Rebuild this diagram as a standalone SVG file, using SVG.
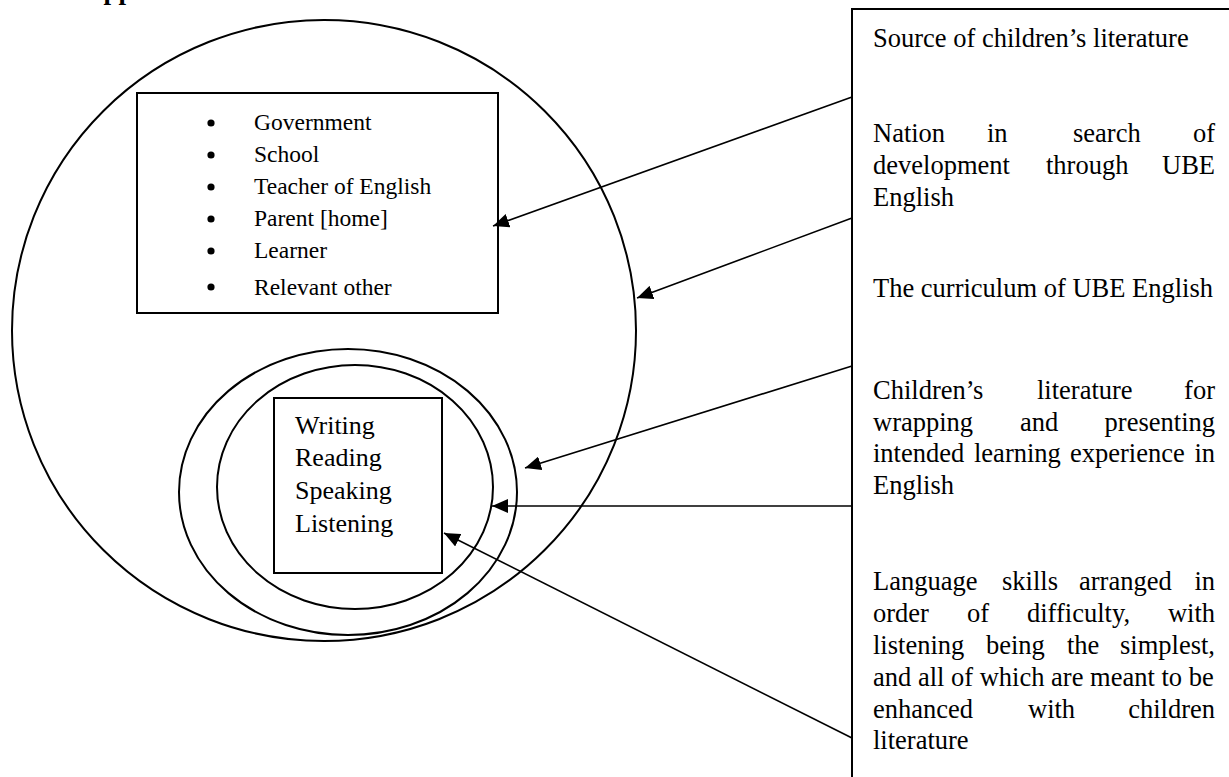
<svg xmlns="http://www.w3.org/2000/svg" width="1229" height="777" viewBox="0 0 1229 777">
<style>
.bg{fill:#fff}
.shape{fill:none;stroke:#000;stroke-width:2}
.conn{fill:none;stroke:#000;stroke-width:1.6}
.t{font-family:"Liberation Serif","Times New Roman",serif;fill:#000}
.list{font-size:23.5px}
.skill{font-size:26px}
.panel{font-size:26.5px}
.end{text-anchor:end}
.title{font-family:"Liberation Serif","Times New Roman",serif;font-weight:bold;font-size:27px;fill:#000}
</style>
<defs>
<marker id="arrow" markerUnits="userSpaceOnUse" markerWidth="16" markerHeight="14" refX="16" refY="7" orient="auto">
<path d="M0,0 L16,7 L0,14 z" fill="#000"/>
</marker>
</defs>
<rect class="bg" x="0" y="0" width="1229" height="777"/>
<text class="title" x="84" y="-1">Approach</text>

<g id="outer-circle">
<ellipse class="shape" cx="324" cy="330.5" rx="312" ry="310.5"/>
</g>

<g id="stakeholders">
<rect class="shape" x="137" y="93" width="361" height="220"/>
<g fill="#000">
<circle cx="211" cy="123" r="3.6"/>
<circle cx="211" cy="155" r="3.6"/>
<circle cx="211" cy="187" r="3.6"/>
<circle cx="211" cy="219" r="3.6"/>
<circle cx="211" cy="251" r="3.6"/>
<circle cx="211" cy="287" r="3.6"/>
</g>
<text class="t list" x="254" y="130">Government</text>
<text class="t list" x="254" y="162">School</text>
<text class="t list" x="254" y="194">Teacher of English</text>
<text class="t list" x="254" y="226">Parent [home]</text>
<text class="t list" x="254" y="258">Learner</text>
<text class="t list" x="254" y="295">Relevant other</text>
</g>

<g id="literature-ellipse">
<ellipse class="shape" cx="348" cy="492" rx="169" ry="143"/>
</g>

<g id="curriculum-ellipse">
<ellipse class="shape" cx="355" cy="487" rx="138" ry="122"/>
</g>

<g id="skills">
<rect class="shape" x="274" y="398" width="168" height="175"/>
<text class="t skill" x="295" y="434">Writing</text>
<text class="t skill" x="295" y="466">Reading</text>
<text class="t skill" x="295" y="499">Speaking</text>
<text class="t skill" x="295" y="532">Listening</text>
</g>

<g id="legend-panel">
<rect class="shape" x="852" y="9" width="420" height="800"/>
<text class="t panel" x="873" y="47">Source of children’s literature</text>

<text class="t panel" x="873" y="142">Nation</text>
<text class="t panel" x="987" y="142">in</text>
<text class="t panel" x="1073" y="142">search</text>
<text class="t panel end" x="1215" y="142">of</text>
<text class="t panel" x="873" y="174">development</text>
<text class="t panel" x="1046" y="174">through</text>
<text class="t panel end" x="1215" y="174">UBE</text>
<text class="t panel" x="873" y="206">English</text>

<text class="t panel" x="873" y="297">The curriculum of UBE English</text>

<text class="t panel" x="873" y="399">Children’s</text>
<text class="t panel" x="1037" y="399">literature</text>
<text class="t panel end" x="1215" y="399">for</text>
<text class="t panel" x="873" y="431">wrapping</text>
<text class="t panel" x="1020" y="431">and</text>
<text class="t panel end" x="1215" y="431">presenting</text>
<text class="t panel" x="873" y="462">intended</text>
<text class="t panel" x="974" y="462">learning</text>
<text class="t panel" x="1070" y="462">experience</text>
<text class="t panel end" x="1215" y="462">in</text>
<text class="t panel" x="873" y="494">English</text>

<text class="t panel" x="873" y="590">Language</text>
<text class="t panel" x="1002" y="590">skills</text>
<text class="t panel" x="1079" y="590">arranged</text>
<text class="t panel end" x="1215" y="590">in</text>
<text class="t panel" x="873" y="622">order</text>
<text class="t panel" x="967" y="622">of</text>
<text class="t panel" x="1027" y="622">difficulty,</text>
<text class="t panel end" x="1215" y="622">with</text>
<text class="t panel" x="873" y="654">listening</text>
<text class="t panel" x="986" y="654">being</text>
<text class="t panel" x="1067" y="654">the</text>
<text class="t panel end" x="1215" y="654">simplest,</text>
<text class="t panel" x="873" y="686">and all of which are meant to be</text>
<text class="t panel" x="873" y="718">enhanced</text>
<text class="t panel" x="1028" y="718">with</text>
<text class="t panel end" x="1215" y="718">children</text>
<text class="t panel" x="873" y="749">literature</text>
</g>

<g id="connectors">
<line class="conn" x1="852" y1="97" x2="493" y2="226" marker-end="url(#arrow)"/>
<line class="conn" x1="852" y1="218" x2="637" y2="298" marker-end="url(#arrow)"/>
<line class="conn" x1="852" y1="366" x2="525" y2="468" marker-end="url(#arrow)"/>
<line class="conn" x1="852" y1="506" x2="492" y2="506" marker-end="url(#arrow)"/>
<line class="conn" x1="852" y1="738" x2="444" y2="533" marker-end="url(#arrow)"/>
</g>
</svg>
